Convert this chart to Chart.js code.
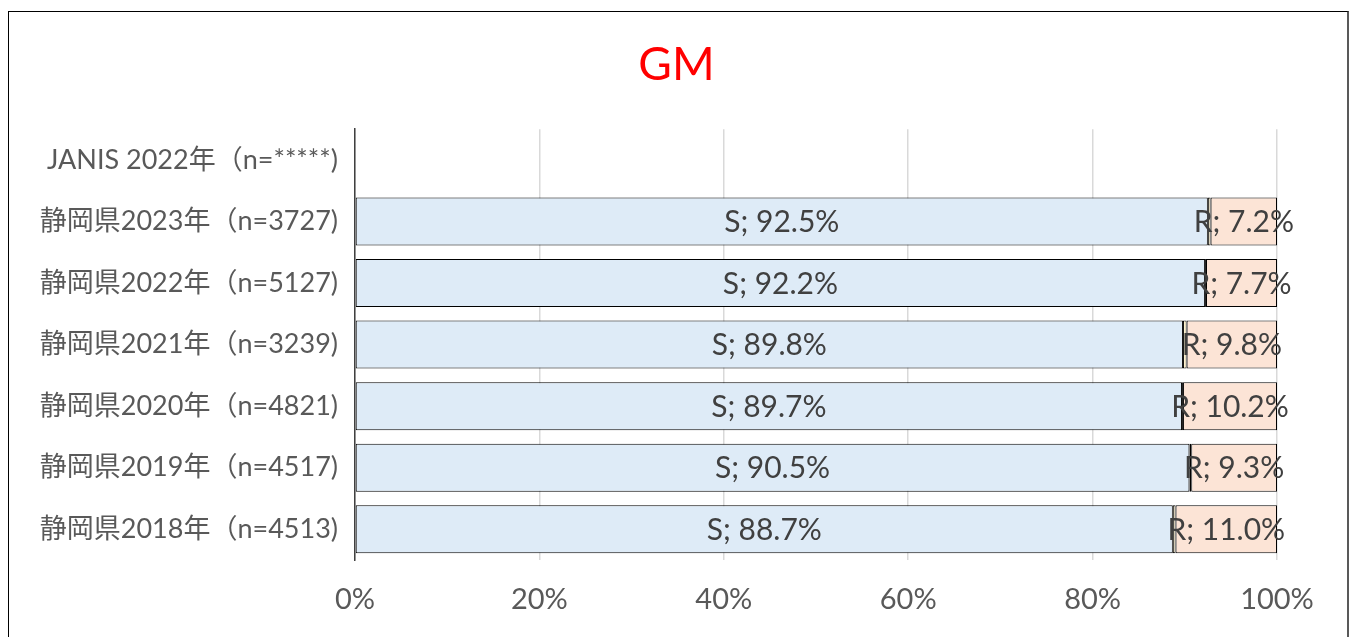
<!DOCTYPE html>
<html>
<head>
<meta charset="utf-8">
<script src="https://cdn.jsdelivr.net/npm/chart.js@4"></script>
<style>
  html, body { margin: 0; padding: 0; background: #fff; }
  #chart { position: absolute; left: 0; top: 0; }
  #frame {
    position: absolute; left: 8px; top: 11px; width: 1338px; height: 640px;
    border-top: 1px solid #000; border-left: 1px solid #000;
    border-right: 2px solid #595959; pointer-events: none;
  }
</style>
</head>
<body>
<canvas id="chart" width="1353" height="637"></canvas>
<div id="frame"></div>
<script>
const FONT = 'Lato, "Noto Sans CJK JP", sans-serif';

const categories = [
    "JANIS 2022年（n=*****)",
    "静岡県2023年（n=3727)",
    "静岡県2022年（n=5127)",
    "静岡県2021年（n=3239)",
    "静岡県2020年（n=4821)",
    "静岡県2019年（n=4517)",
    "静岡県2018年（n=4513)"
];
const sValues = [null, 92.5, 92.2, 89.8, 89.7, 90.5, 88.7];
const iValues = [null, 0.3, 0.1, 0.4, 0.1, 0.2, 0.3];
const rValues = [null, 7.2, 7.7, 9.8, 10.2, 9.3, 11.0];
const xTicks = [0, 20, 40, 60, 80, 100];

// draws "S; 92.5%" style labels in the middle of each segment
const segmentLabels = {
    id: "segmentLabels",
    afterDatasetsDraw(chart) {
        const ctx = chart.ctx;
        ctx.save();
        ctx.font = "30px " + FONT;
        ctx.fillStyle = "#404040";
        ctx.textAlign = "center";
        ctx.textBaseline = "middle";
        chart.data.datasets.forEach((ds, di) => {
            if(!ds.showLabel) return;
            chart.getDatasetMeta(di).data.forEach((bar, i) => {
                const v = ds.data[i];
                if(v == null) return;
                const p = bar.getProps(["x", "y", "base"], true);
                ctx.fillText(`${ds.label}; ${v.toFixed(1)}%`, (p.x + p.base) / 2, p.y + 1);
            });
        });
        ctx.restore();
    }
};

new Chart(document.getElementById("chart"), {
    type: "bar",
    data: {
        labels: categories,
        datasets: [
            {label: "S", data: sValues, backgroundColor: "#deebf7", showLabel: true},
            {label: "I", data: iValues, backgroundColor: "#fff2cc", showLabel: false},
            {label: "R", data: rValues, backgroundColor: "#fce4d6", showLabel: true}
        ].map(d => Object.assign(d, {borderColor: "#000", borderWidth: 1, borderSkipped: false}))
    },
    options: {
        indexAxis: "y",
        responsive: false,
        animation: false,
        datasets: {bar: {categoryPercentage: 1, barPercentage: 0.78}},
        layout: {padding: 0},
        plugins: {
            legend: {display: false},
            tooltip: {enabled: false},
            title: {
                display: true,
                text: "GM",
                color: "#ff0000",
                font: {family: FONT, size: 46, weight: "normal"},
                padding: {top: 38, bottom: 36}
            }
        },
        scales: {
            x: {
                stacked: true,
                min: 0,
                max: 100,
                afterBuildTicks: s => { s.ticks = xTicks.map(v => ({value: v})); },
                afterFit: s => { s.height = 77; },
                grid: {color: "#d9d9d9", lineWidth: 1.5, drawTicks: false},
                border: {display: false},
                ticks: {
                    padding: 22,
                    color: "#595959",
                    font: {family: FONT, size: 29},
                    callback: v => v + "%"
                }
            },
            y: {
                stacked: true,
                afterFit: s => { s.width = 355; },
                grid: {display: false, drawTicks: false},
                border: {display: true, color: "#404040", width: 1.5},
                ticks: {
                    padding: 17,
                    color: "#595959",
                    font: {family: FONT, size: 27}
                }
            },
            // empty right-hand space so the title stays centred on the whole canvas
            yRight: {
                position: "right",
                afterFit: s => { s.width = 76; },
                grid: {display: false, drawTicks: false},
                border: {display: false},
                ticks: {display: false}
            }
        }
    },
    plugins: [segmentLabels]
});
</script>
</body>
</html>
